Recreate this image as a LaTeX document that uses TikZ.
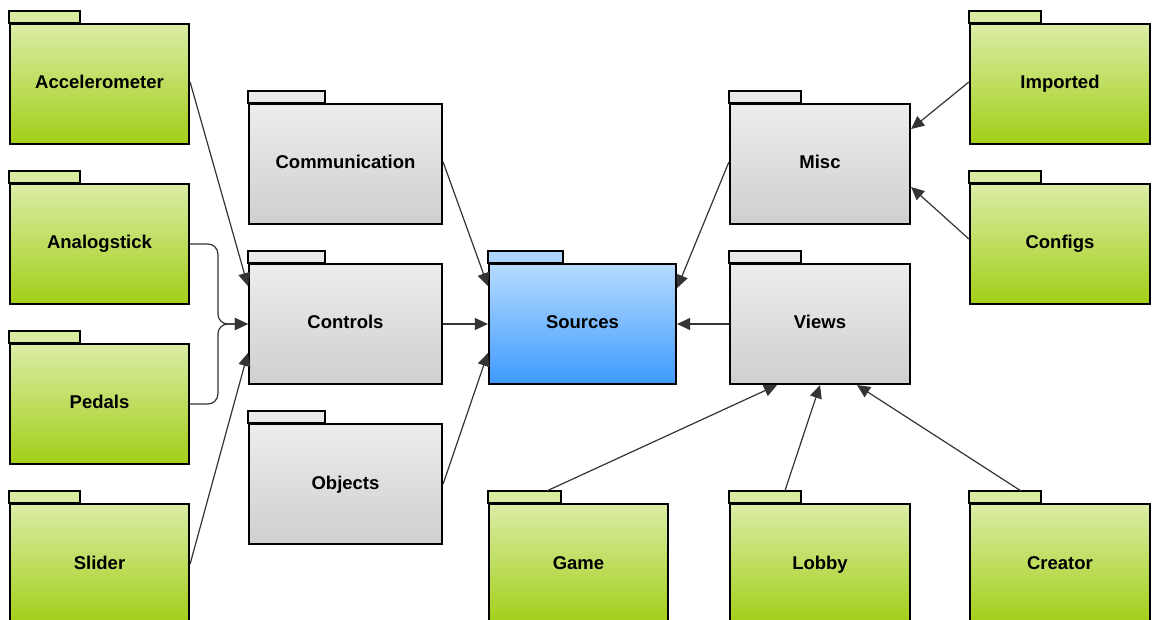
\documentclass[tikz,border=0pt]{standalone}
\usepackage{fontspec}
\setmainfont{Liberation Sans}
\usetikzlibrary{arrows.meta,calc}

\definecolor{greentop}{RGB}{219,236,166}
\definecolor{greenbot}{RGB}{162,207,24}
\definecolor{greentabc}{RGB}{216,235,160}
\definecolor{greytop}{RGB}{237,237,237}
\definecolor{greybot}{RGB}{207,207,207}
\definecolor{greytabc}{RGB}{233,233,233}
\definecolor{bluetop}{RGB}{182,219,255}
\definecolor{bluebot}{RGB}{62,154,255}
\definecolor{bluetabc}{RGB}{174,214,252}
\definecolor{linkc}{RGB}{52,52,52}

\tikzset{
  pkbody/.style={draw=black, line width=2.2pt, rectangle, minimum height=120pt,
    inner sep=0pt, text height=13.5pt, text depth=3.5pt,
    font=\bfseries\fontsize{18.5}{20}\selectfont},
  pktab/.style={draw=black, line width=2.2pt},
  greenbody/.style={top color=greentop, bottom color=greenbot},
  greentab/.style={fill=greentabc},
  greybody/.style={top color=greytop, bottom color=greybot},
  greytab/.style={fill=greytabc},
  bluebody/.style={top color=bluetop, bottom color=bluebot},
  bluetab/.style={fill=bluetabc},
  link/.style={draw=linkc, line width=1.2pt,
    -{Triangle[length=13pt,width=12pt]}},
}

% #1 colour set, #2 node name, #3 centre, #4 width, #5 tab width, #6 label
\newcommand\pkgbox[6]{%
  \node[pkbody, #1body, minimum width=#4] (#2) at (#3) {#6};
  \draw[pktab, #1tab] (#2.north west) rectangle ++(#5,-12);
}

\begin{document}
\begin{tikzpicture}[x=1pt, y=-1pt]
  \clip (0,0) rectangle (1152,620);
  \fill[white] (0,0) rectangle (1152,620);

  % left column of input packages
  \pkgbox{green}{acc}{99.5,84}{179}{71}{Accelerometer}
  \pkgbox{green}{ana}{99.5,244}{179}{71}{Analogstick}
  \pkgbox{green}{ped}{99.5,404}{179}{71}{Pedals}
  \pkgbox{green}{sli}{99.5,564}{179}{71}{Slider}

  % middle column
  \pkgbox{grey}{com}{345.5,164}{193}{77}{Communication}
  \pkgbox{grey}{ctl}{345.5,324}{193}{77}{Controls}
  \pkgbox{grey}{obj}{345.5,484}{193}{77}{Objects}

  % central package
  \pkgbox{blue}{src}{582.5,324}{187}{75}{Sources}

  % right side
  \pkgbox{grey}{misc}{820,164}{180}{72}{Misc}
  \pkgbox{grey}{views}{820,324}{180}{72}{Views}
  \pkgbox{green}{imp}{1060,84}{180}{72}{Imported}
  \pkgbox{green}{cfg}{1060,244}{180}{72}{Configs}

  % bottom row
  \pkgbox{green}{game}{578.5,564}{179}{73}{Game}
  \pkgbox{green}{lobby}{820,564}{180}{72}{Lobby}
  \pkgbox{green}{creator}{1060,564}{180}{72}{Creator}

  % dependencies into Controls
  \draw[link] ($(acc.east)+(0,-2)$) -- ($(ctl.west)+(0,-38)$);
  \draw[link, rounded corners=10pt] (ana.east) -| ($(ctl.west)+(-30,0)$) -- (ctl.west);
  \draw[link, rounded corners=10pt] (ped.east) -| ($(ctl.west)+(-30,0)$) -- (ctl.west);
  \draw[link] (sli.east) -- ($(ctl.west)+(0,29)$);

  % dependencies into Sources
  \draw[link] ($(com.east)+(0,-2)$) -- ($(src.west)+(0,-38)$);
  \draw[link] (ctl.east) -- (src.west);
  \draw[link] (obj.east) -- ($(src.west)+(0,29)$);
  \draw[link] ($(misc.west)+(0,-2)$) -- ($(src.east)+(0,-36)$);
  \draw[link] (views.west) -- (src.east);

  % dependencies into Misc
  \draw[link] ($(imp.west)+(0,-2)$) -- ($(misc.east)+(0,-35)$);
  \draw[link] ($(cfg.west)+(0,-5)$) -- ($(misc.east)+(0,23)$);

  % dependencies into Views
  \draw[link] ($(game.north west)+(59,-12)$) -- ($(views.south)+(-43,0)$);
  \draw[link] ($(lobby.north west)+(56,-12)$) -- (views.south);
  \draw[link] ($(creator.north west)+(52,-12)$) -- ($(views.south)+(37,0)$);
\end{tikzpicture}
\end{document}
